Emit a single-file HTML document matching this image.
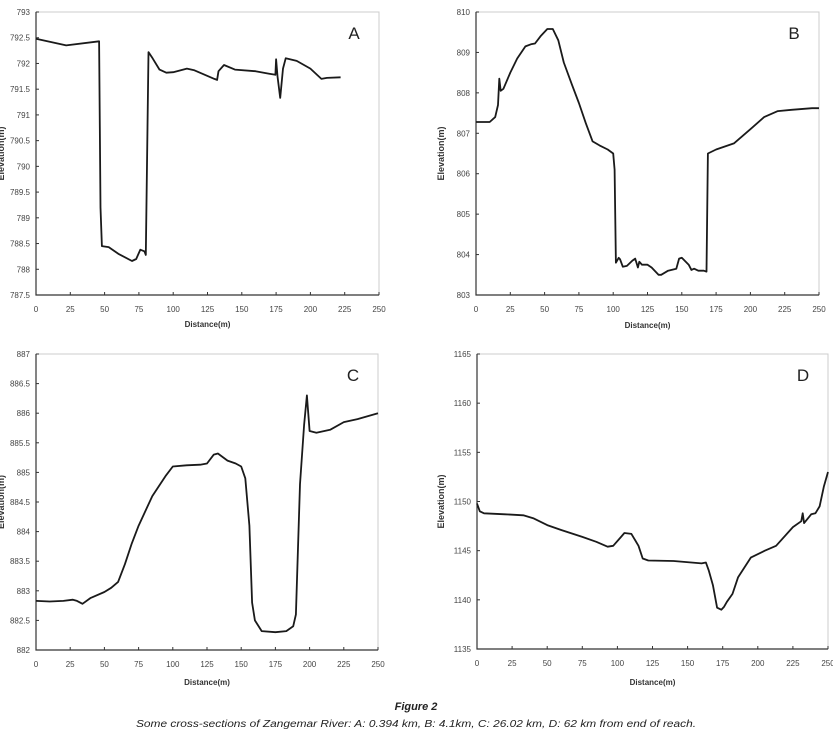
<!DOCTYPE html>
<html><head><meta charset="utf-8">
<style>
body{margin:0;background:#fff;}
svg{display:block;font-family:"Liberation Sans",sans-serif;}
</style></head>
<body>
<svg id="fig" width="833" height="740" viewBox="0 0 833 740">
<g id="panels"></g>
<text x="416" y="710" text-anchor="middle" font-size="11" font-weight="bold" font-style="italic" fill="#222">Figure 2</text>
<text x="416" y="727" text-anchor="middle" font-size="10" font-style="italic" fill="#222" textLength="560" lengthAdjust="spacingAndGlyphs">Some cross-sections of Zangemar River: A: 0.394 km, B: 4.1km, C: 26.02 km, D: 62 km from end of reach.</text>
</svg>
<script>
const xTicks=[0,25,50,75,100,125,150,175,200,225,250];
const aX=[0,22,46,47,48,53,60,70,73,76,79,80,82,85,90,95,100,110,115,130,132,133,137,145,160,170,174.5,175,176,178,180,182,190,200,208,212,222];
const aY=[792.48,792.35,792.43,789.2,788.45,788.43,788.3,788.16,788.2,788.38,788.35,788.28,792.22,792.1,791.88,791.82,791.83,791.9,791.87,791.7,791.68,791.85,791.97,791.88,791.85,791.8,791.78,792.08,791.75,791.33,791.9,792.1,792.05,791.9,791.7,791.72,791.73];
const aTicks=[787.5,788,788.5,789,789.5,790,790.5,791,791.5,792,792.5,793];
const bX=[0,10,14,16,17,18,20,25,30,36,40,43,47,52,56,60,64,70,75,80,85,90,96,100,101,102,104,105,107,110,114,116,118,119,121,125,128,133,135,140,146,148,150,155,157,159,162,166,168,169,175,188,200,210,220,230,245,250];
const bY=[807.28,807.28,807.4,807.7,808.35,808.05,808.1,808.5,808.85,809.15,809.2,809.22,809.4,809.58,809.58,809.3,808.75,808.2,807.75,807.25,806.8,806.7,806.6,806.5,806.1,803.8,803.92,803.88,803.7,803.72,803.85,803.9,803.68,803.82,803.75,803.75,803.68,803.5,803.5,803.6,803.65,803.9,803.92,803.75,803.62,803.65,803.6,803.6,803.58,806.5,806.6,806.75,807.1,807.4,807.55,807.58,807.62,807.62];
const bTicks=[803,804,805,806,807,808,809,810];
const cX=[0,10,20,27,30,34,40,50,55,60,65,70,75,85,95,100,110,120,125,130,133,140,146,150,153,156,158,160,165,175,183,188,190,193,196,198,200,205,215,225,235,250];
const cY=[882.83,882.82,882.83,882.85,882.83,882.78,882.88,882.98,883.05,883.15,883.45,883.8,884.1,884.6,884.95,885.1,885.12,885.13,885.15,885.3,885.32,885.2,885.15,885.1,884.9,884.1,882.8,882.5,882.32,882.3,882.32,882.4,882.6,884.8,885.8,886.3,885.7,885.67,885.72,885.85,885.9,886.0];
const cTicks=[882,882.5,883,883.5,884,884.5,885,885.5,886,886.5,887];
const dX=[0,2,5,20,33,40,50,60,75,85,93,97,102,105,110,115,118,122,140,160,163,165,168,171,174,176,178,182,186,195,205,213,225,231,232,233,238,241,244,247,250];
const dY=[1149.8,1149,1148.8,1148.7,1148.6,1148.3,1147.6,1147.1,1146.4,1145.9,1145.4,1145.5,1146.3,1146.8,1146.7,1145.5,1144.2,1144.0,1143.95,1143.7,1143.8,1143.0,1141.5,1139.2,1139.0,1139.3,1139.8,1140.6,1142.3,1144.3,1145.0,1145.5,1147.4,1148.0,1148.8,1147.8,1148.7,1148.8,1149.5,1151.5,1153.0];
const dTicks=[1135,1140,1145,1150,1155,1160,1165];

const NS='http://www.w3.org/2000/svg';
const root=document.getElementById('panels');
function mk(tag,attrs,parent){const e=document.createElementNS(NS,tag);for(const k in attrs)e.setAttribute(k,attrs[k]);parent.appendChild(e);return e;}

function panel(id,label,L,R,T,B,xs,ys,yt,ytl,ytx,xtl,xty){
  const g=mk('g',{},root);
  
  
  const y0=yt[0],y1=yt[yt.length-1];
  const sx=v=>L+(v-0)/250*(R-L);
  const sy=v=>B-(v-y0)/(y1-y0)*(B-T);
  const fr=mk('rect',{x:L,y:T,width:R-L,height:B-T,fill:'none',stroke:'#ccc','stroke-width':1},g);
  
  
  const ax=mk('path',{d:`M${L},${T}V${B}H${R}`,fill:'none',stroke:'#333','stroke-width':1.2},g);
  
  
  xTicks.forEach(v=>{
    mk('line',{x1:sx(v),x2:sx(v),y1:B,y2:B-3,stroke:'#333'},g);
    const t=mk('text',{x:sx(v),y:B+17,'text-anchor':'middle','font-size':8,fill:'#444'},g);
    
    
    t.textContent=v;
  });
  yt.forEach(v=>{
    mk('line',{x1:L,x2:L+3,y1:sy(v),y2:sy(v),stroke:'#333'},g);
    const t=mk('text',{x:L-6,y:sy(v)+3,'text-anchor':'end','font-size':8,fill:'#444'},g);
    
    
    t.textContent=v;
  });
  const xt=mk('text',{x:(L+R)/2,y:xty,'text-anchor':'middle','font-size':8,'font-weight':'bold',fill:'#333'},g);
  
  
  xt.textContent='Distance(m)';
  const cyy=(T+B)/2;
  const yl=mk('text',{x:ytx,y:cyy,'text-anchor':'middle','font-size':9,'font-weight':'bold',fill:'#333',transform:`rotate(-90 ${ytx} ${cyy})`},g);
  
  
  yl.textContent='Elevation(m)';
  const lb=mk('text',{x:R-25,y:T+27,'text-anchor':'middle','font-size':17,fill:'#222'},g);
  
  
  lb.textContent=label;
  let d='';
  xs.forEach((v,i)=>{d+=(i?'L':'M')+sx(v).toFixed(1)+','+sy(ys[i]).toFixed(1);});
  const p=mk('path',{d:d,fill:'none',stroke:'#1a1a1a','stroke-width':1.8,'stroke-linejoin':'round'},g);
  
  
}
panel('a','A',36,379,12,295,aX,aY,aTicks,null,4,null,327);
panel('b','B',476,819,12,295,bX,bY,bTicks,null,444,null,328);
panel('c','C',36,378,354,650,cX,cY,cTicks,null,4,null,685);
panel('d','D',477,828,354,649,dX,dY,dTicks,null,444,null,685);
</script>
</body></html>
